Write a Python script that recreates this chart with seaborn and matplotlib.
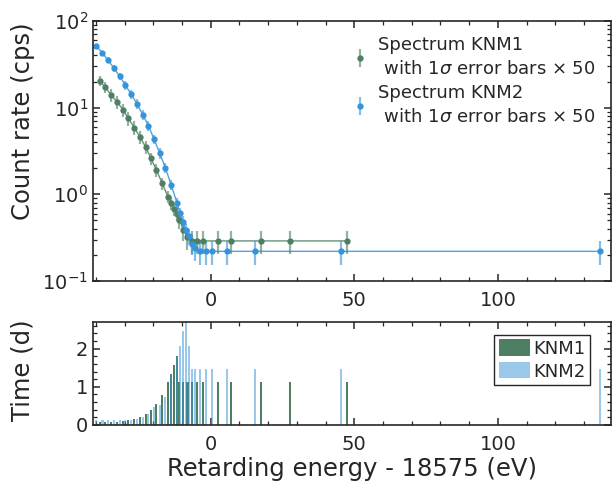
import numpy as np
import pandas as pd
import matplotlib
matplotlib.use("Agg")
import matplotlib.pyplot as plt
import seaborn as sns
from matplotlib.ticker import MultipleLocator, LogLocator, NullFormatter

# retarding energy relative to 18575 eV
knm1_energy = [-38.7, -36.7, -34.7, -32.6, -30.6, -28.7, -26.6, -24.7, -22.6, -20.8,
               -18.9, -16.9, -14.9, -13.7, -12.7, -11.8, -10.9, -9.5, -8.1, -6.5,
               -4.7, -2.7, 2.5, 7.2, 17.4, 27.6, 47.3]
knm1_rate = [20.3, 17.2, 14.0, 11.7, 9.5, 7.5, 5.9, 4.6, 3.5, 2.6,
             1.9, 1.34, 0.94, 0.79, 0.67, 0.59, 0.51, 0.39, 0.32, 0.29,
             0.29, 0.29, 0.29, 0.29, 0.29, 0.29, 0.29]
knm1_err = [2.7, 2.5, 2.25, 1.94, 1.66, 1.34, 1.07, 0.82, 0.60, 0.43,
            0.32, 0.22, 0.156, 0.13, 0.111, 0.097, 0.114, 0.10, 0.09, 0.086,
            0.086, 0.086, 0.086, 0.086, 0.086, 0.086, 0.086]
knm1_time = [0.08, 0.08, 0.08, 0.09, 0.10, 0.12, 0.15, 0.20, 0.28, 0.40,
             0.55, 0.79, 1.12, 1.33, 1.57, 1.80, 1.13, 1.13, 1.13, 1.13,
             1.13, 1.13, 1.13, 1.13, 1.13, 1.13, 1.13]

knm2_energy = [-39.8, -37.7, -35.7, -33.7, -31.7, -29.7, -27.7, -25.7, -23.7, -21.7,
               -19.7, -17.8, -15.8, -13.8, -11.7, -10.8, -9.7, -8.7, -7.7, -6.6,
               -5.6, -3.8, -1.6, 0.5, 5.6, 15.4, 45.4, 135.6]
knm2_rate = [51.5, 42.4, 35.2, 28.5, 23.0, 18.1, 14.3, 11.1, 8.3, 6.2,
             4.3, 3.0, 2.03, 1.29, 0.79, 0.61, 0.48, 0.39, 0.33, 0.27,
             0.24, 0.22, 0.22, 0.22, 0.22, 0.22, 0.22, 0.22]
knm2_err = [3.39, 3.07, 2.8, 2.62, 2.26, 2.09, 1.72, 1.46, 1.1, 0.77,
            0.51, 0.41, 0.28, 0.167, 0.112, 0.092, 0.075, 0.063, 0.068, 0.073,
            0.069, 0.066, 0.066, 0.066, 0.066, 0.066, 0.066, 0.066]
knm2_time = [0.13, 0.13, 0.13, 0.12, 0.13, 0.12, 0.14, 0.15, 0.20, 0.30,
             0.48, 0.52, 0.73, 1.34, 1.81, 2.07, 2.47, 2.80, 2.07, 1.47,
             1.47, 1.47, 1.47, 1.47, 1.47, 1.47, 1.47, 1.47]

green = "#4e7f63"
blue = "#3593d9"
dark = "#262626"

sns.set_theme(style="ticks")
plt.rcParams['font.family'] = ['DejaVu Sans']
plt.rcParams['mathtext.fontset'] = 'dejavusans'
plt.rcParams['axes.unicode_minus'] = False
plt.rcParams['axes.edgecolor'] = dark
plt.rcParams['axes.linewidth'] = 1.2

df1 = pd.DataFrame({'energy': knm1_energy, 'rate': knm1_rate, 'err': knm1_err, 'time': knm1_time})
df2 = pd.DataFrame({'energy': knm2_energy, 'rate': knm2_rate, 'err': knm2_err, 'time': knm2_time})

fig = plt.figure(figsize=(6.14, 4.84), dpi=100)
ax1 = fig.add_axes([93/614, 1-281/484, (611-93)/614, 260/484])
ax2 = fig.add_axes([93/614, 1-425/484, (611-93)/614, 103/484])

# spectrum
sns.lineplot(data=df1, x='energy', y='rate', color=green, lw=1, ax=ax1, alpha=0.85)
sns.lineplot(data=df2, x='energy', y='rate', color=blue, lw=1, ax=ax1, alpha=0.85)
ax1.errorbar(df1.energy, df1.rate, yerr=df1.err, fmt='o', ms=3.5, color=green,
             ecolor=(0.306, 0.498, 0.388, 0.6), elinewidth=1.6,
             label='Spectrum KNM1\n with 1$\\sigma$ error bars $\\times$ 50')
ax1.errorbar(df2.energy, df2.rate, yerr=df2.err, fmt='o', ms=3.5, color=blue,
             ecolor=(0.208, 0.576, 0.851, 0.6), elinewidth=1.6,
             label='Spectrum KNM2\n with 1$\\sigma$ error bars $\\times$ 50')

ax1.set_yscale('log')
ax1.set_ylim(0.1, 100)
ax1.set_xlim(-41, 139.4)
ax1.set_xlabel('')
ax1.set_ylabel('Count rate (cps)', fontsize=17.5, color=dark)
ax1.yaxis.set_label_coords(-0.112, 0.615)
ax1.yaxis.set_minor_locator(LogLocator(base=10, subs=np.arange(2, 10)))
ax1.yaxis.set_minor_formatter(NullFormatter())
leg1 = ax1.legend(loc='upper right', frameon=False, fontsize=13, handlelength=0.8,
                  handletextpad=0.6, borderaxespad=0.45, labelspacing=0.35)
for t in leg1.get_texts():
    t.set_linespacing(1.4)

# measurement time per retarding energy
sns.barplot(data=df1, x='energy', y='time', native_scale=True, orient='x',
            color=green, saturation=1, width=0.8, errorbar=None, lw=0,
            ax=ax2, label='KNM1')
sns.barplot(data=df2, x='energy', y='time', native_scale=True, orient='x',
            color=blue, saturation=1, alpha=0.5, width=0.8, errorbar=None, lw=0,
            ax=ax2, label='KNM2')
ax2.set_xlim(-41, 139.4)
ax2.set_ylim(0, 2.7)
ax2.yaxis.set_major_locator(MultipleLocator(1))
ax2.yaxis.set_minor_locator(MultipleLocator(0.2))
ax2.set_xlabel('Retarding energy - 18575 (eV)', fontsize=17.5, color=dark, labelpad=2.5)
ax2.set_ylabel('Time (d)', fontsize=17.5, color=dark)
ax2.yaxis.set_label_coords(-0.112, 0.53)
leg = ax2.legend(loc='upper right', bbox_to_anchor=(0.9595, 0.874), fontsize=13,
                 fancybox=False, framealpha=1, edgecolor=dark, handlelength=1.7,
                 handleheight=1.0, handletextpad=0.2, borderpad=0.25,
                 labelspacing=0.25, borderaxespad=0)
leg.get_frame().set_linewidth(1.0)

for ax in (ax1, ax2):
    ax.xaxis.set_major_locator(MultipleLocator(50))
    ax.xaxis.set_minor_locator(MultipleLocator(10))
    ax.tick_params(which='both', direction='in', top=True, right=True,
                   colors=dark, labelsize=14)
    ax.tick_params(which='major', length=5, width=1.1)
    ax.tick_params(which='minor', length=3, width=0.9)
    ax.tick_params(axis='x', pad=7)

fig.savefig('out.png', dpi=100)
